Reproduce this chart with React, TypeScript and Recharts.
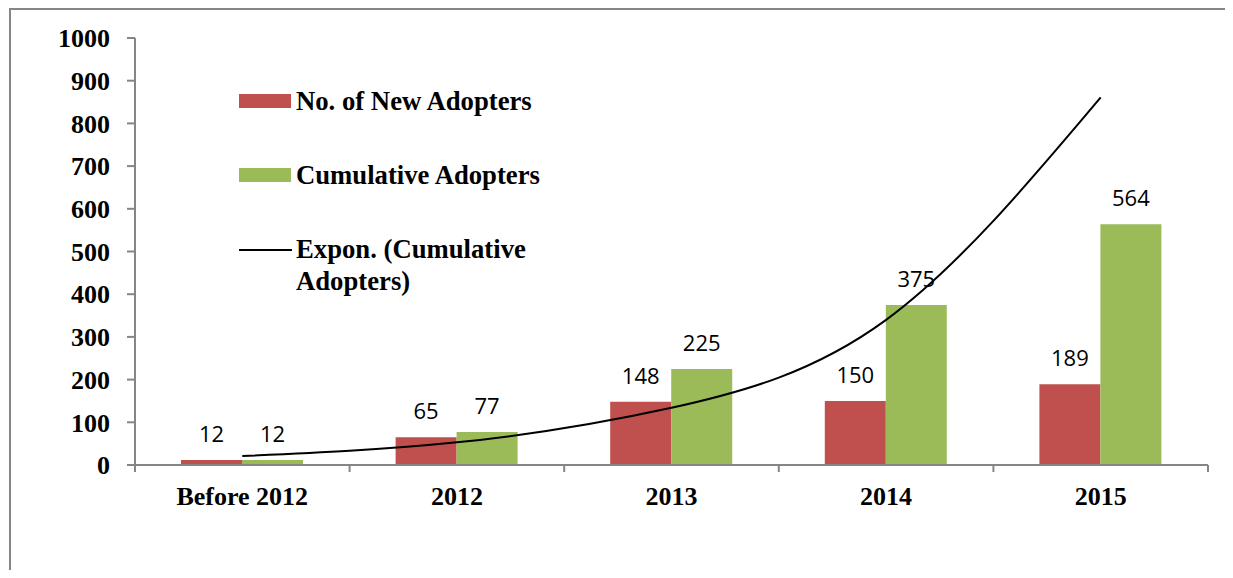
import React from "react";
import { ComposedChart, Bar, Line, XAxis, YAxis, LabelList, Legend } from "recharts";

const categories = ["Before 2012", "2012", "2013", "2014", "2015"];
const newAdopters = [12, 65, 148, 150, 189];
const cumulativeAdopters = [12, 77, 225, 375, 564];
const trendCumulative = [21, 53, 134, 340, 861];
const yTicks = [0, 100, 200, 300, 400, 500, 600, 700, 800, 900, 1000];

const data = categories.map((name, i) => ({
  name,
  newAdopters: newAdopters[i],
  cumulative: cumulativeAdopters[i],
  trend: trendCumulative[i],
}));

const RED = "#C0504D";
const GREEN = "#9BBB59";
const AXIS = "#868686";
const SERIF = "'Liberation Serif', 'Times New Roman', serif";
const SANS = "'Open Sans', 'Liberation Sans', sans-serif";

const XTick = (props: any) => {
  const { x, y, payload, index } = props;
  const off = payload && payload.offset ? payload.offset : 107.3;
  const last = index === categories.length - 1;
  return (
    <g>
      <line x1={x - off} x2={x - off} y1={y} y2={y + 7} stroke={AXIS} strokeWidth={2} />
      {last && <line x1={x + off} x2={x + off} y1={y} y2={y + 7} stroke={AXIS} strokeWidth={2} />}
      <text x={x} y={y + 22} dy="0.71em" textAnchor="middle" fill="#000" fontFamily={SERIF} fontWeight="bold" fontSize={26}>
        {payload.value}
      </text>
    </g>
  );
};

const LegendContent = () => {
  const textStyle: React.CSSProperties = {
    position: "absolute",
    left: 57,
    fontFamily: SERIF,
    fontWeight: "bold",
    fontSize: 26.7,
    lineHeight: "32px",
    color: "#000",
    whiteSpace: "nowrap",
  };
  return (
    <div style={{ position: "relative", width: 330, height: 230 }}>
      <div style={{ position: "absolute", left: 0, top: 14, width: 52, height: 14, background: RED }} />
      <div style={{ ...textStyle, top: 5 }}>No. of New Adopters</div>
      <div style={{ position: "absolute", left: 0, top: 88, width: 52, height: 14, background: GREEN }} />
      <div style={{ ...textStyle, top: 79 }}>Cumulative Adopters</div>
      <div style={{ position: "absolute", left: 0, top: 169, width: 53, height: 2, background: "#000" }} />
      <div style={{ ...textStyle, top: 153 }}>
        Expon. (Cumulative
        <br />
        Adopters)
      </div>
    </div>
  );
};

export default function App() {
  return (
    <div style={{ position: "relative", width: 1225, height: 562 }}>
      <style>{`body{overflow:hidden}`}</style>
      <div style={{ position: "absolute", left: 1, top: 0, width: 2, height: 570, background: AXIS }} />
      <div style={{ position: "absolute", left: 1, top: 0, width: 1224, height: 2, background: AXIS }} />
      <ComposedChart
        width={1225}
        height={570}
        data={data}
        margin={{ top: 30, right: 25, left: 0, bottom: 73 }}
        barGap={0}
      >
        <XAxis
          dataKey="name"
          height={40}
          interval={0}
          tickLine={false}
          tickSize={0}
          tickMargin={0}
          axisLine={{ stroke: AXIS, strokeWidth: 2 }}
          tick={<XTick />}
        />
        <YAxis
          width={127}
          domain={[0, 1000]}
          ticks={yTicks}
          interval={0}
          tickSize={8}
          tickMargin={17}
          axisLine={{ stroke: AXIS, strokeWidth: 2 }}
          tickLine={{ stroke: AXIS, strokeWidth: 2 }}
          tick={{ fill: "#000", fontFamily: SERIF, fontWeight: "bold", fontSize: 26 }}
        />
        <Legend
          layout="vertical"
          align="center"
          verticalAlign="middle"
          content={<LegendContent />}
          wrapperStyle={{ position: "absolute", left: 231, top: 72, width: 330, height: 230 }}
        />
        <Bar dataKey="newAdopters" name="No. of New Adopters" fill={RED} barSize={61} isAnimationActive={false}>
          <LabelList dataKey="newAdopters" position="top" offset={18} fill="#000" fontFamily={SANS} fontSize={22} />
        </Bar>
        <Bar dataKey="cumulative" name="Cumulative Adopters" fill={GREEN} barSize={61} isAnimationActive={false}>
          <LabelList dataKey="cumulative" position="top" offset={18} fill="#000" fontFamily={SANS} fontSize={22} />
        </Bar>
        <Line
          dataKey="trend"
          name="Expon. (Cumulative Adopters)"
          type="natural"
          stroke="#000"
          strokeWidth={2}
          dot={false}
          activeDot={false}
          legendType="line"
          isAnimationActive={false}
        />
      </ComposedChart>
    </div>
  );
}
